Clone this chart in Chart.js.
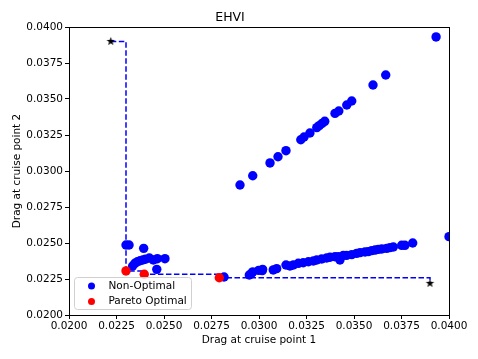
<!DOCTYPE html>
<html>
<head>
<meta charset="utf-8">
<script src="https://cdn.jsdelivr.net/npm/chart.js@4/dist/chart.umd.min.js"></script>
<style>
  body { margin: 0; background: #fff; }
  #wrap { width: 478px; height: 359px; }
</style>
</head>
<body>
<div id="wrap"><canvas id="chart" width="478" height="359"></canvas></div>
<script>
// points
var nonOptX = [0.0230, 0.02316, 0.02393, 0.02335, 0.02347, 0.02360, 0.02374, 0.02388, 0.02402, 0.02423,
  0.02444, 0.02465, 0.02505, 0.02462, 0.02816, 0.02949, 0.02967, 0.02998,
  0.02961, 0.03019, 0.03017, 0.03075, 0.03093, 0.03142, 0.03163, 0.03181, 0.03207, 0.03233, 0.03260,
  0.03286, 0.03304, 0.03330, 0.03356, 0.03374, 0.03400, 0.03418, 0.03426, 0.03444, 0.03461, 0.03488,
  0.03514, 0.03532, 0.03558, 0.03575, 0.03593, 0.03611, 0.03628, 0.03646, 0.03672, 0.03689, 0.03707,
  0.03751, 0.03768, 0.03809, 0.04000,
  0.02900, 0.02967, 0.03058, 0.03100, 0.03142, 0.03220, 0.03237, 0.03268, 0.03304, 0.03317, 0.03332,
  0.03346, 0.03400, 0.03420, 0.03462, 0.03488, 0.03600, 0.03667, 0.03932];
var nonOptY = [0.02486, 0.02486, 0.02463, 0.02340, 0.02359, 0.02370, 0.02377, 0.02382, 0.02387, 0.02396,
  0.02382, 0.02391, 0.02391, 0.02317, 0.02264, 0.02278, 0.02299, 0.02310,
  0.02290, 0.02317, 0.02308, 0.02313, 0.02322, 0.02347, 0.02340, 0.02347, 0.02359, 0.02363, 0.02370,
  0.02375, 0.02382, 0.02389, 0.02396, 0.02401, 0.02405, 0.02405, 0.02382, 0.02414, 0.02414, 0.02419,
  0.02428, 0.02433, 0.02438, 0.02440, 0.02447, 0.02451, 0.02456, 0.02458, 0.02463, 0.02468, 0.02472,
  0.02484, 0.02484, 0.02500, 0.02544,
  0.02903, 0.02967, 0.03056, 0.03099, 0.03141, 0.03217, 0.03236, 0.03264, 0.03301, 0.03315, 0.03331,
  0.03345, 0.03400, 0.03417, 0.03458, 0.03486, 0.03597, 0.03667, 0.03931];
var paretoX = [0.0230, 0.02396, 0.02791];
var paretoY = [0.02306, 0.02283, 0.02259];
var refX = [0.0222, 0.0390];
var refY = [0.0390, 0.0222];
var xTicks = [0.0200, 0.0225, 0.0250, 0.0275, 0.0300, 0.0325, 0.0350, 0.0375, 0.0400];
var yTicks = [0.0200, 0.0225, 0.0250, 0.0275, 0.0300, 0.0325, 0.0350, 0.0375, 0.0400];

function pts(xs, ys) {
  return xs.map(function (x, i) { return { x: x, y: ys[i] }; });
}

// step line through the reference points and the pareto front
var frontX = [refX[0]].concat(paretoX, [refX[1]]);
var frontY = [refY[0]].concat(paretoY, [refY[1]]);

// filled black star for the reference points
function starImage(r) {
  var c = document.createElement('canvas');
  var s = Math.ceil(r * 2 + 2);
  c.width = s; c.height = s;
  var g = c.getContext('2d');
  g.beginPath();
  for (var i = 0; i < 10; i++) {
    var rad = i % 2 === 0 ? r : r * 0.4;
    var a = -Math.PI / 2 + i * Math.PI / 5;
    var px = s / 2 + rad * Math.cos(a), py = s / 2 + rad * Math.sin(a);
    if (i === 0) g.moveTo(px, py); else g.lineTo(px, py);
  }
  g.closePath();
  g.fillStyle = '#000';
  g.fill();
  return c;
}

var FONT = "'DejaVu Sans', sans-serif";
Chart.defaults.font.family = FONT;
Chart.defaults.color = '#000';

var frame = {
  id: 'frame',
  afterDatasetsDraw: function (chart) {
    var a = chart.chartArea, ctx = chart.ctx;
    ctx.save();
    ctx.strokeStyle = '#000';
    ctx.lineWidth = 1;
    ctx.strokeRect(Math.round(a.left) + 0.5, Math.round(a.top) + 0.5,
      Math.round(a.right - a.left), Math.round(a.bottom - a.top));
    // legend box, lower left of the plot
    var bx = a.left + 5.5, by = a.bottom - 37.5, bw = 117, bh = 32;
    ctx.fillStyle = 'rgba(255,255,255,0.8)';
    ctx.strokeStyle = '#d0d0d0';
    ctx.beginPath();
    ctx.roundRect(bx, by, bw, bh, 3);
    ctx.fill();
    ctx.stroke();
    var items = [chart.data.datasets[1], chart.data.datasets[2]];
    ctx.font = '10.5px ' + FONT;
    ctx.textBaseline = 'middle';
    items.forEach(function (d, i) {
      var cy = by + 8.5 + i * 15.5;
      ctx.fillStyle = d.backgroundColor;
      ctx.beginPath();
      ctx.arc(bx + 17, cy, 3.5, 0, Math.PI * 2);
      ctx.fill();
      ctx.fillStyle = '#000';
      ctx.fillText(d.label, bx + 34, cy);
    });
    ctx.restore();
  }
};

new Chart(document.getElementById('chart'), {
  type: 'scatter',
  data: {
    datasets: [
      {
        type: 'line', label: 'front', data: pts(frontX, frontY), stepped: 'before',
        borderColor: '#0000ff', borderWidth: 1.5, borderDash: [5.5, 2.5], pointRadius: 0,
        fill: false, order: 5
      },
      {
        label: 'Non-Optimal', data: pts(nonOptX, nonOptY), backgroundColor: '#0000ff',
        borderWidth: 0, pointRadius: 4.7, order: 4, clip: 0
      },
      {
        label: 'Pareto Optimal', data: pts(paretoX, paretoY), backgroundColor: '#ff0000',
        borderWidth: 0, pointRadius: 4.7, order: 3
      },
      {
        label: 'ref', data: pts(refX, refY), pointStyle: starImage(4.5), order: 1
      }
    ]
  },
  options: {
    responsive: false,
    animation: false,
    layout: { padding: { left: 11, right: 29, top: 0, bottom: 12 } },
    plugins: {
      legend: { display: false },
      tooltip: { enabled: false },
      title: {
        display: true, text: 'EHVI', color: '#000',
        font: { size: 12.5, weight: 'normal' }, padding: { top: 10, bottom: 2 }
      }
    },
    scales: {
      x: {
        type: 'linear', min: 0.02, max: 0.04,
        afterBuildTicks: function (s) { s.ticks = xTicks.map(function (v) { return { value: v }; }); },
        afterFit: function (s) { s.height = 32; },
        ticks: {
          color: '#000', font: { size: 10.5 }, padding: 1, maxRotation: 0, autoSkip: false,
          callback: function (v) { return v.toFixed(4); }
        },
        grid: { drawOnChartArea: false, tickLength: 4, color: '#000' },
        border: { display: false },
        title: { display: true, text: 'Drag at cruise point 1', color: '#000', font: { size: 10.5 }, padding: { top: 2, bottom: 0 } }
      },
      y: {
        type: 'linear', min: 0.02, max: 0.04,
        afterBuildTicks: function (s) { s.ticks = yTicks.map(function (v) { return { value: v }; }); },
        afterFit: function (s) { s.width = 58; },
        ticks: {
          color: '#000', font: { size: 10.5 }, padding: 2, autoSkip: false,
          callback: function (v) { return v.toFixed(4); }
        },
        grid: { drawOnChartArea: false, tickLength: 4, color: '#000' },
        border: { display: false },
        title: { display: true, text: 'Drag at cruise point 2', color: '#000', font: { size: 10.5 }, padding: { top: 0, bottom: 2 } }
      }
    }
  },
  plugins: [frame]
});
</script>
</body>
</html>
